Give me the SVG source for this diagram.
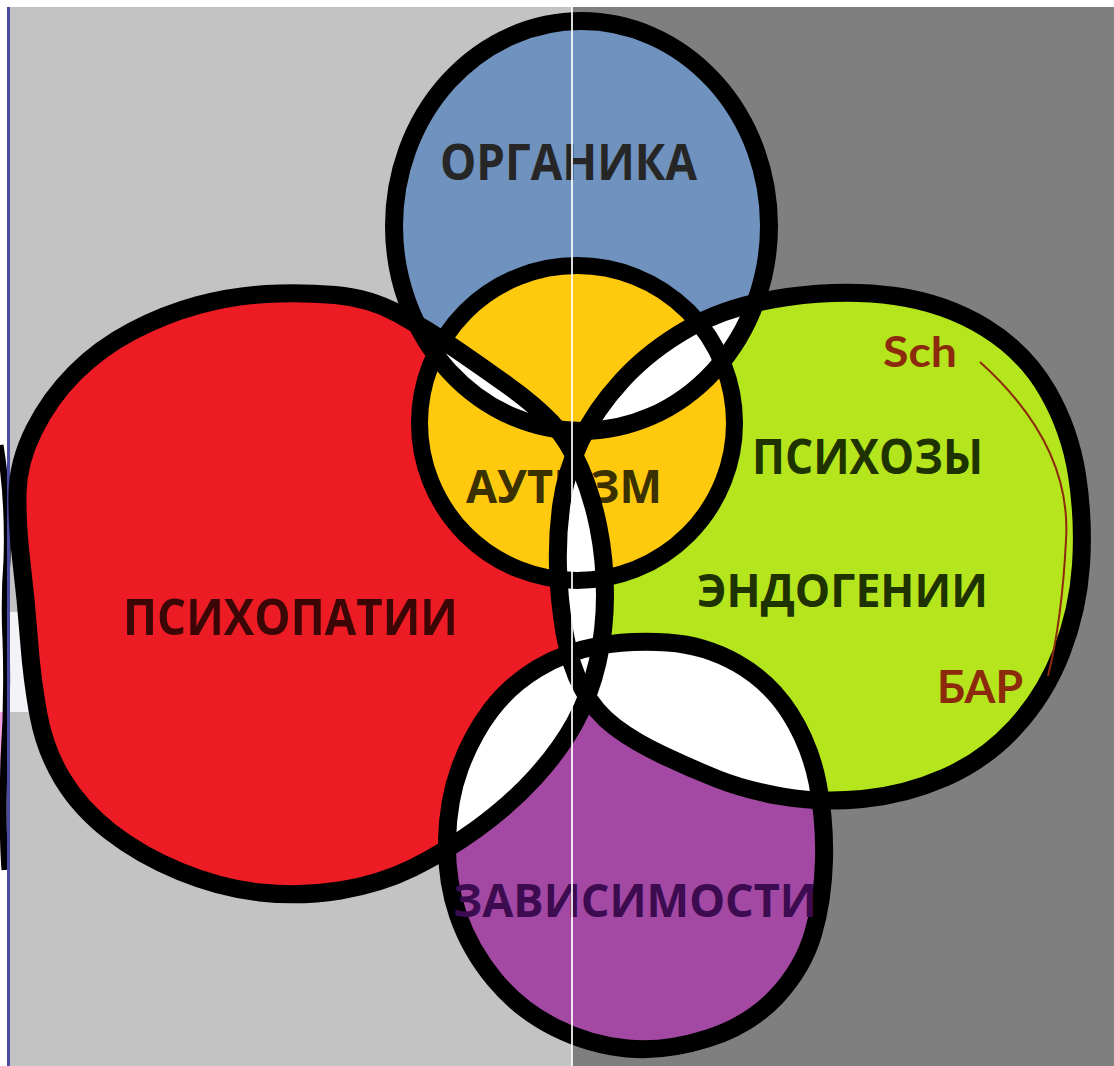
<svg xmlns="http://www.w3.org/2000/svg" width="1114" height="1066" viewBox="0 0 1114 1066">
<style>
.ol{fill:none;stroke:#000;stroke-width:18;stroke-linejoin:round}
.lbl{font-family:"Open Sans","Noto Sans","Liberation Sans",sans-serif;font-weight:700}
.note{font-family:Lato,"Open Sans","Liberation Sans",sans-serif;font-weight:700;fill:#8c2a0c}
.wht{fill:#fff}
</style>
<defs>
<path id="redShape" d="M 335 295 Q 370 298 399 314 Q 428 330 455 348.5 Q 482 367 508.5 386 Q 535 405 551.5 422.5 Q 568 440 580 467.5 Q 592 495 598.5 527.5 Q 605 560 605 595 Q 605 630 597.5 662.5 Q 590 695 575 722.5 Q 560 750 535 777.5 Q 510 805 477.5 828.5 Q 445 852 412.5 868 Q 380 884 340 890.5 Q 300 897 260 892.5 Q 220 888 180 871.5 Q 140 855 110 831.5 Q 80 808 62.5 779 Q 45 750 38.5 715 Q 32 680 29 640 Q 26 600 21.5 562.5 Q 17 525 17.5 493.5 Q 18 462 34 430 Q 50 398 75 373 Q 100 348 132.5 331 Q 165 314 198.5 305 Q 232 296 266 294 Q 300 292 335 295 Z"/>
<ellipse id="blueShape" cx="581.5" cy="226" rx="187.5" ry="205"/>
<circle id="yellowShape" cx="577" cy="423" r="157.5"/>
<path id="greenShape" d="M 895 296 Q 945 303 985 327.5 Q 1025 352 1047.5 391 Q 1070 430 1077 475 Q 1084 520 1081 565 Q 1078 610 1061.5 652.5 Q 1045 695 1015 727.5 Q 985 760 945 777.5 Q 905 795 862.5 799 Q 820 803 782.5 796.5 Q 745 790 717.5 779 Q 690 768 662.5 755 Q 635 742 615 727 Q 595 712 582.5 688.5 Q 570 665 564.5 632.5 Q 559 600 558 567.5 Q 557 535 561.5 503.5 Q 566 472 580.5 441 Q 595 410 622.5 380 Q 650 350 690 327.5 Q 730 305 787.5 297 Q 845 289 895 296 Z"/>
<path id="purpleShape" d="M 667.5 642.5 Q 705 645 737.5 663.5 Q 770 682 790 713.5 Q 810 745 817.5 782.5 Q 825 820 824 860 Q 823 900 813 934 Q 803 968 776.5 996.5 Q 750 1025 707.5 1038.5 Q 665 1052 627.5 1048.5 Q 590 1045 555 1027.5 Q 520 1010 495 980 Q 470 950 458 915 Q 446 880 447 840 Q 448 800 460 767.5 Q 472 735 491 710 Q 510 685 537.5 668.5 Q 565 652 597.5 646 Q 630 640 667.5 642.5 Z"/>
<clipPath id="clipRed"><use href="#redShape"/></clipPath>
<clipPath id="clipGreen"><use href="#greenShape"/></clipPath>
</defs>

<g id="background">
<rect width="1114" height="1066" fill="#fff"/>
<rect x="8" y="7" width="564" height="1059" fill="#c3c3c3"/>
<rect x="572" y="7" width="542" height="1059" fill="#7f7f7f"/>
<path d="M 10 612 L 26 612 L 28 712 L 10 712 Z" fill="#f4f4f8"/>
<rect x="0" y="712" width="5" height="66" fill="#f0a0e0"/>
<path d="M 0 445 Q 9 500 7 560 Q 4 600 6 640 Q 8 700 4 760 Q 2 830 5 870" fill="none" stroke="#000" stroke-width="7"/>
<rect x="7" y="7" width="3" height="1059" fill="#4a4aa0"/>
</g>

<g id="fills">
<use href="#redShape" fill="#ed1c24"/>
<use href="#blueShape" fill="#7092be"/>
<use href="#greenShape" fill="#b5e61d"/>
<use href="#purpleShape" fill="#a349a4"/>
</g>

<g id="node-autism">
<use href="#yellowShape" fill="#ffc90e"/>
<text class="lbl" x="466" y="503" font-size="46" fill="#3a3000" textLength="196" lengthAdjust="spacingAndGlyphs">АУТИЗМ</text>
</g>

<g id="overlaps">
<use href="#blueShape" class="wht" clip-path="url(#clipRed)"/>
<use href="#blueShape" class="wht" clip-path="url(#clipGreen)"/>
<use href="#greenShape" class="wht" clip-path="url(#clipRed)"/>
<use href="#purpleShape" class="wht" clip-path="url(#clipRed)"/>
<use href="#purpleShape" class="wht" clip-path="url(#clipGreen)"/>
</g>

<g id="outlines">
<use href="#redShape" class="ol"/>
<use href="#greenShape" class="ol"/>
<use href="#purpleShape" class="ol"/>
<use href="#blueShape" class="ol"/>
<use href="#yellowShape" class="ol" style="stroke-width:17"/>
</g>

<g id="node-organika">
<text class="lbl" x="440" y="180" font-size="50" fill="#262626" textLength="257" lengthAdjust="spacingAndGlyphs">ОРГАНИКА</text>
</g>
<g id="node-psychopathy">
<text class="lbl" x="123" y="635" font-size="51" fill="#3a0606" textLength="335" lengthAdjust="spacingAndGlyphs">ПСИХОПАТИИ</text>
</g>
<g id="node-psychoses">
<text class="lbl" x="752" y="474" font-size="49" fill="#1e3300" textLength="231" lengthAdjust="spacingAndGlyphs">ПСИХОЗЫ</text>
<text class="lbl" x="697" y="607" font-size="47" fill="#1e3300" textLength="291" lengthAdjust="spacingAndGlyphs">ЭНДОГЕНИИ</text>
<text class="note" x="883" y="367" font-size="42" textLength="74" lengthAdjust="spacingAndGlyphs">Sch</text>
<text class="note" x="937" y="703" font-size="45" textLength="86" lengthAdjust="spacingAndGlyphs">БАР</text>
</g>
<g id="node-dependencies">
<text class="lbl" x="453" y="917" font-size="47" fill="#3c0b50" textLength="364" lengthAdjust="spacingAndGlyphs">ЗАВИСИМОСТИ</text>
</g>

<g id="connectors">
<path d="M 980 362 Q 1072 445 1066 540 Q 1062 620 1048 676" fill="none" stroke="#8c2a0c" stroke-width="2"/>
</g>

<g id="divider">
<rect x="571" y="7" width="2" height="1059" fill="#fff" opacity="0.85"/>
</g>
</svg>
